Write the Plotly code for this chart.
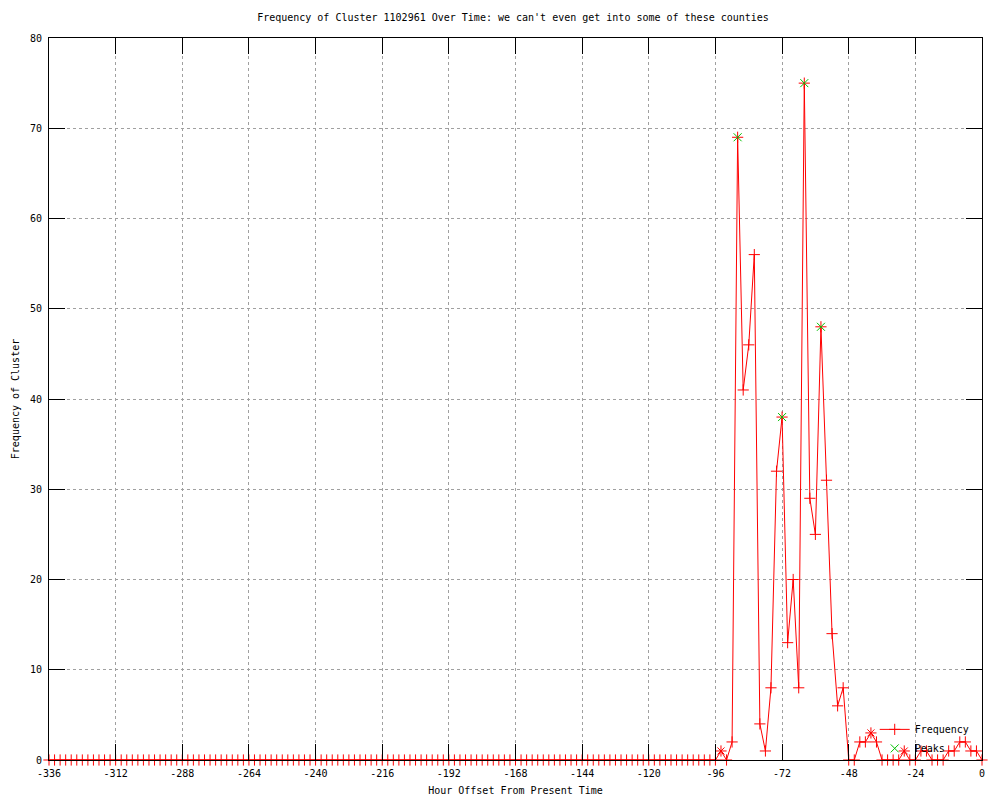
import plotly.graph_objects as go

# Hour offsets (every 2 hours)
hours = list(range(-336, 1, 2))

# Frequency values (-336 .. -100 are all zero, then -98 .. 0)
freq_early = [0] * 119
freq_late = [0, 0, 1, 0, 2, 69, 41, 46, 56, 4,
             1, 8, 32, 38, 13, 20, 8, 75, 29, 25,
             48, 31, 14, 6, 8, 0, 0, 2, 2, 3,
             2, 0, 0, 0, 0, 1, 0, 0, 1, 1,
             0, 0, 0, 1, 1, 2, 2, 1, 1, 0]
freq = freq_early + freq_late

peak_hours = [-88, -72, -64, -58]
peak_vals = [69, 38, 75, 48]

small_peak_hours = [-94, -40, -28]
small_peak_vals = [1, 3, 1]

x_ticks = list(range(-336, 1, 24))
y_ticks = list(range(0, 81, 10))

FONT = "DejaVu Sans Mono"

fig = go.Figure()
fig.add_trace(go.Scatter(
    x=hours, y=freq, mode="lines+markers", name="Frequency",
    line=dict(color="#ff0000", width=1),
    marker=dict(symbol="cross-thin", size=8, line=dict(color="#ff0000", width=1)),
    cliponaxis=False,
))
fig.add_trace(go.Scatter(
    x=small_peak_hours, y=small_peak_vals, mode="markers", showlegend=False,
    marker=dict(symbol="x-thin", size=7, line=dict(color="#ff0000", width=1)),
    cliponaxis=False, hoverinfo="skip",
))
fig.add_trace(go.Scatter(
    x=peak_hours, y=peak_vals, mode="markers", name="Peaks",
    marker=dict(symbol="x-thin", size=8, line=dict(color="#00c000", width=1)),
    cliponaxis=False,
))

fig.update_layout(
    width=1000, height=800,
    paper_bgcolor="white", plot_bgcolor="white",
    margin=dict(l=41, r=26, t=30, b=48, autoexpand=False),
    font=dict(family=FONT, size=10, color="black"),
    title=dict(text="Frequency of Cluster 1102961 Over Time: we can't even get into some of these counties",
               x=0.505, xanchor="center", y=0.988, yanchor="middle",
               font=dict(family=FONT, size=10, color="black")),
    showlegend=True,
    legend=dict(x=0.885, xanchor="left", y=-0.004, yanchor="bottom",
                bgcolor="rgba(0,0,0,0)", font=dict(family=FONT, size=10),
                tracegroupgap=0, itemwidth=30),
)
fig.update_xaxes(
    range=[-336, 0], tickvals=x_ticks, ticktext=[str(v) for v in x_ticks],
    showgrid=True, gridcolor="#a0a0a0", griddash="dot", gridwidth=1,
    showline=True, linecolor="black", linewidth=1, mirror="ticks",
    ticks="inside", ticklen=16, tickcolor="black", ticklabelstandoff=4,
    zeroline=False, layer="above traces", automargin=False,
    title=dict(text="Hour Offset From Present Time", standoff=8,
               font=dict(family=FONT, size=10)),
)
fig.update_yaxes(
    range=[0, 80], tickvals=y_ticks,
    showgrid=True, gridcolor="#a0a0a0", griddash="dot", gridwidth=1,
    showline=True, linecolor="black", linewidth=1, mirror="ticks",
    ticks="inside", ticklen=16, tickcolor="black", ticklabelstandoff=4,
    zeroline=False, layer="above traces", automargin=False,
    title=dict(text="Frequency of Cluster", standoff=8,
               font=dict(family=FONT, size=10)),
)

fig.write_html("out.html")
